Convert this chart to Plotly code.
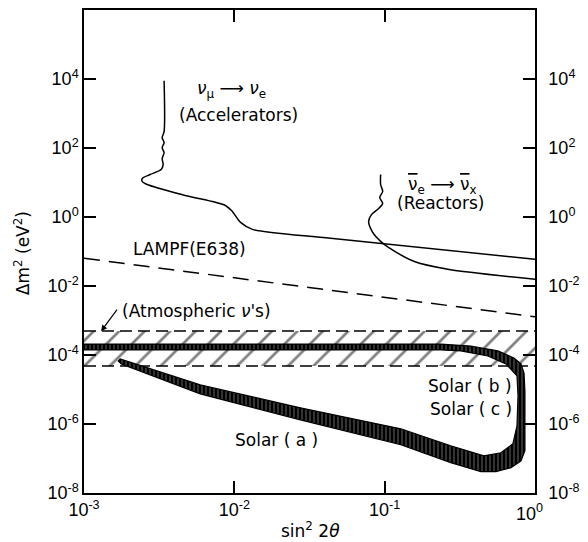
import math
import plotly.graph_objects as go

# ---- data ----
acc_x = [3.41e-3, 3.41e-3, 3.31e-3, 3.41e-3, 3.31e-3, 3.41e-3, 3.31e-3, 3.36e-3, 3.26e-3,
         2.75e-3, 2.44e-3, 2.44e-3, 2.63e-3, 4.71e-3, 8.71e-3, 9.7e-3, 0.011, 0.0132, 0.0437, 1.0]
acc_y = [8.9e3, 298, 200, 143, 103, 73.6, 49.4, 33.1, 23.8,
         17.0, 13.1, 10.7, 8.75, 4.21, 2.16, 1.45, 0.698, 0.438, 0.241, 0.0596]

rea_x = [0.094, 0.094, 0.097, 0.0927, 0.097, 0.0912, 0.0819, 0.0782, 0.0832, 0.094, 0.106,
         0.156, 0.263, 1.0]
rea_y = [17.0, 8.75, 5.5, 3.68, 2.47, 1.77, 1.19, 0.746, 0.359, 0.197, 0.132,
         0.0521, 0.0306, 0.0157]

lampf_x = [1e-3, 1.0]
lampf_y = [0.0635, 1.28e-3]

atm_x = [1e-3, 1.0]
atm_top = [4.94e-4, 4.94e-4]
atm_bot = [4.8e-5, 4.8e-5]

sol_outer_x = [0.001, 0.236, 0.374, 0.566, 0.724, 0.807, 0.845, 0.857, 0.857, 0.857, 0.807,
               0.692, 0.550, 0.437, 0.275, 0.128, 0.0275, 0.00593, 0.00177, 0.00169]
sol_outer_y = [2.08e-4, 2.08e-4, 1.82e-4, 1.31e-4, 8.2e-5, 5.5e-5, 3.0e-5, 9.1e-6, 1.24e-6,
               1.68e-7, 8.6e-8, 5.4e-8, 4.15e-8, 4.15e-8, 7.6e-8, 2.5e-7, 1.32e-6, 7.5e-6,
               5.5e-5, 6.7e-5]
sol_inner_x = [0.00174, 0.00593, 0.0275, 0.128, 0.275, 0.457, 0.593, 0.713, 0.759, 0.771,
               0.759, 0.641, 0.486, 0.321, 0.236, 0.001]
sol_inner_y = [7.66e-5, 1.36e-5, 2.94e-6, 7.26e-7, 2.34e-7, 1.2e-7, 1.47e-7, 2.68e-7, 8.87e-7,
               6.53e-6, 2.47e-5, 5.5e-5, 9.35e-5, 1.31e-4, 1.40e-4, 1.40e-4]

x_ticks = [1e-3, 1e-2, 1e-1, 1]
x_tick_text = ["10<sup>-3</sup>", "10<sup>-2</sup>", "10<sup>-1</sup>", ""]
x_last_label = "10<sup>0</sup>"
y_ticks = [1e-8, 1e-6, 1e-4, 1e-2, 1, 1e2, 1e4]
y_tick_text = ["10<sup>-8</sup>", "10<sup>-6</sup>", "10<sup>-4</sup>", "10<sup>-2</sup>",
               "10<sup>0</sup>", "10<sup>2</sup>", "10<sup>4</sup>"]

TICKFONT = "Liberation Sans, Arial, sans-serif"
TXTFONT = "DejaVu Sans, sans-serif"
BLK = "black"

fig = go.Figure()

# atmospheric hatched band
fig.add_trace(go.Scatter(
    x=atm_x + atm_x[::-1], y=atm_top + atm_bot[::-1], mode="lines", fill="toself",
    fillcolor="white", line=dict(width=0),
    fillpattern=dict(shape="/", size=18, solidity=0.15, fgcolor=BLK, bgcolor="white"),
    hoverinfo="skip", showlegend=False))
for yy in (atm_top, atm_bot):
    fig.add_trace(go.Scatter(x=atm_x, y=yy, mode="lines",
                             line=dict(color=BLK, width=1.5, dash="12px,6px"),
                             hoverinfo="skip", showlegend=False))

# solar band
fig.add_trace(go.Scatter(
    x=sol_outer_x + sol_inner_x, y=sol_outer_y + sol_inner_y, mode="lines", fill="toself",
    fillcolor=BLK, line=dict(color=BLK, width=1.2),
    fillpattern=dict(shape="|", size=4, solidity=0.2, fgcolor="white", bgcolor=BLK),
    hoverinfo="skip", showlegend=False))

# LAMPF dashed
fig.add_trace(go.Scatter(x=lampf_x, y=lampf_y, mode="lines",
                         line=dict(color=BLK, width=1.5, dash="16px,9px"),
                         hoverinfo="skip", showlegend=False))
# accelerators
fig.add_trace(go.Scatter(x=acc_x, y=acc_y, mode="lines",
                         line=dict(color=BLK, width=1.5, shape="spline", smoothing=0.8),
                         hoverinfo="skip", showlegend=False))
# reactors
fig.add_trace(go.Scatter(x=rea_x, y=rea_y, mode="lines",
                         line=dict(color=BLK, width=1.5, shape="spline", smoothing=0.8),
                         hoverinfo="skip", showlegend=False))
# dummy for right axis
fig.add_trace(go.Scatter(x=[None], y=[None], yaxis="y2", mode="lines",
                         hoverinfo="skip", showlegend=False))

tf = dict(family=TICKFONT, size=18, color=BLK)
af = dict(family=TXTFONT, size=17, color=BLK)

L = math.log10

def ann(text, x, y, xanchor="left"):
    fig.add_annotation(text=text, x=L(x), y=L(y), xref="x", yref="y", showarrow=False,
                       xanchor=xanchor, yanchor="middle", font=af)

ann("<i>ν</i><sub>μ</sub> ⟶ <i>ν</i><sub>e</sub>", 5.5e-3, 4.9e3)
ann("(Accelerators)", 4.17e-3, 923)
ann("<span style='text-decoration:overline'>ν</span><sub>e</sub> ⟶ "
    "<span style='text-decoration:overline'>ν</span><sub>x</sub>", 0.138, 8.2)
ann("(Reactors)", 0.118, 2.47)
ann("LAMPF(E638)", 2.06e-3, 0.116)
ann("(Atmospheric <i>ν</i>'s)", 1.74e-3, 1.87e-3)
ann("Solar ( b )", 0.724, 1.27e-5, xanchor="right")
ann("Solar ( c )", 0.724, 2.75e-6, xanchor="right")
ann("Solar ( a )", 0.0374, 3.49e-7, xanchor="right")

fig.add_annotation(text="", x=L(1.3e-3), y=L(4.9e-4), xref="x", yref="y",
                   ax=17, ay=-23, showarrow=True, arrowhead=2, arrowsize=1,
                   arrowwidth=1.2, arrowcolor=BLK)

# last x tick label, nudged left as in the reference
fig.add_annotation(text=x_last_label, x=1, y=0, xref="paper", yref="paper", xanchor="center",
                   yanchor="top", xshift=-6, yshift=-6, showarrow=False, font=tf)

fig.add_annotation(text="Δm<sup>2</sup> (eV<sup>2</sup>)", x=-0.137, y=0.497, xref="paper",
                   yref="paper", textangle=-90, xanchor="center", yanchor="middle",
                   showarrow=False, font=af)
fig.add_annotation(text="sin<sup>2</sup> 2<i>θ</i>", x=0.503, y=-0.076, xref="paper",
                   yref="paper", showarrow=False, font=af, xanchor="center", yanchor="middle")

axis_common = dict(type="log", showgrid=False, zeroline=False, ticks="inside", ticklen=12,
                   tickwidth=1.5, tickcolor=BLK, showline=True, linewidth=1.5, linecolor=BLK,
                   tickfont=tf)

fig.update_layout(
    width=588, height=542, margin=dict(l=84, r=53, t=8, b=49),
    plot_bgcolor="white", paper_bgcolor="white", font=tf,
    xaxis=dict(range=[-3, 0], tickvals=x_ticks, ticktext=x_tick_text, mirror="ticks",
               **axis_common),
    yaxis=dict(range=[-8, 6], tickvals=y_ticks, ticktext=y_tick_text, **axis_common),
    yaxis2=dict(range=[-8, 6], tickvals=y_ticks, ticktext=y_tick_text, overlaying="y",
                side="right", ticklabelstandoff=8, **axis_common),
)

fig.write_html("out.html")
